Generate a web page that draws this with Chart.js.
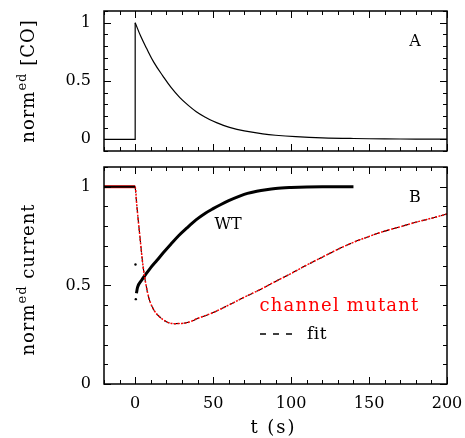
<!DOCTYPE html>
<html><head><meta charset="utf-8">
<script src="https://cdn.jsdelivr.net/npm/chart.js@4.4.0/dist/chart.umd.min.js"></script>
<style>
html,body{margin:0;padding:0;background:#fff;width:465px;height:438px;overflow:hidden}
canvas{position:absolute;left:0}
#c1{top:0}
#c2{top:155px}
</style></head><body>
<canvas id="c1" width="465" height="160"></canvas>
<canvas id="c2" width="465" height="283"></canvas>
<script>
const FONT = '"DejaVu Serif", serif';
const xTicks = [0, 50, 100, 150, 200];
const coYTicks = [0, 0.5, 1];
const curYTicks = [0, 0.5, 1];

// Panel A: normalised CO (step at t=0, then decay)
const coStepT = [-20, 0, 0];
const coStepY = [0, 0, 1];
const coT = [0, 3.5, 7.3, 12, 17.9, 23, 28.5, 34, 39.2, 45, 49.8, 55, 60.5, 70, 81.8, 90, 103, 120, 140, 160, 180, 200];
const coY = [1, 0.885, 0.78, 0.66, 0.54, 0.445, 0.36, 0.292, 0.237, 0.19, 0.157, 0.128, 0.102, 0.072, 0.047, 0.035, 0.023, 0.013, 0.007, 0.004, 0.002, 0.001];

// Panel B: WT current
const wtBaseT = [-20, -10, 0];
const wtBaseY = [1.0, 1.0, 1.0];
const wtT = [0.8, 1.5, 4, 7, 10, 14, 18, 23, 28, 33, 39, 45, 50, 55, 60, 67, 72, 78, 84, 90, 100, 110, 120, 130, 140];
const wtY = [0.46, 0.49, 0.525, 0.558, 0.59, 0.627, 0.665, 0.71, 0.753, 0.79, 0.832, 0.866, 0.889, 0.91, 0.929, 0.952, 0.966, 0.977, 0.985, 0.991, 0.996, 0.999, 1.0, 1.0, 1.0];
const wtStrayT = [0.2, 0.4];
const wtStrayY = [0.606, 0.43];

// Panel B: channel mutant current
const mutT = [-20, -10, 0, 1, 3, 5, 7, 9, 12, 15, 20, 25, 30, 35, 40, 50, 60, 70, 80, 90, 100, 110, 120, 130, 140, 150, 160, 170, 180, 190, 200];
const mutY = [1.0, 1.0, 1.0, 0.91, 0.75, 0.60, 0.50, 0.43, 0.375, 0.345, 0.316, 0.306, 0.307, 0.315, 0.332, 0.362, 0.40, 0.44, 0.478, 0.52, 0.56, 0.603, 0.643, 0.683, 0.718, 0.748, 0.775, 0.797, 0.82, 0.84, 0.862];
// fit of the mutant
const fitT = [0, 1, 3, 5, 7, 9, 12, 15, 20, 25, 30, 35, 40, 50, 60, 70, 80, 90, 100, 110, 120, 130, 140, 150, 160, 170, 180, 190, 200];
const fitY = [1.0, 0.91, 0.75, 0.60, 0.50, 0.43, 0.375, 0.345, 0.316, 0.306, 0.307, 0.315, 0.332, 0.362, 0.40, 0.44, 0.478, 0.52, 0.56, 0.603, 0.643, 0.683, 0.718, 0.748, 0.775, 0.797, 0.82, 0.84, 0.862];

const pts = (t, y) => t.map((v, i) => ({x: v, y: y[i]}));

function txt(ctx, t, x, y, size, opts = {}) {
  ctx.font = size + 'px ' + FONT;
  ctx.letterSpacing = (opts.ls || 0) + 'px';
  ctx.fillStyle = opts.color || '#000';
  ctx.textBaseline = 'middle';
  let w = ctx.measureText(t).width;
  let x0 = x;
  if ((opts.align || 'center') === 'center') x0 = x - w / 2;
  ctx.textAlign = 'left';
  ctx.fillText(t, x0, y);
  ctx.letterSpacing = '0px';
}

function makeFrame(opts) {
  return {
    id: 'frame',
    afterDatasetsDraw(chart) {
      const {ctx, chartArea: a, scales: {x, y}} = chart;
      ctx.save();
      ctx.strokeStyle = '#000';
      ctx.lineWidth = 1;
      const n = Math.round((opts.xMax - opts.xMin) / opts.xMinor);
      for (let i = 0; i <= n; i++) {
        const v = opts.xMin + i * opts.xMinor;
        const px = Math.round(x.getPixelForValue(v)) + 0.5;
        const major = Math.abs(v % 50) < 1e-6;
        const L = major ? 7 : 4;
        ctx.beginPath();
        ctx.moveTo(px, a.bottom); ctx.lineTo(px, a.bottom - L);
        ctx.moveTo(px, a.top); ctx.lineTo(px, a.top + L);
        ctx.stroke();
      }
      const m = Math.round((opts.yMax - opts.yMin) / 0.1);
      for (let i = 0; i <= m; i++) {
        const v = opts.yMin + i * 0.1;
        const py = Math.round(y.getPixelForValue(v)) + 0.5;
        const major = Math.abs(Math.round(v * 10) % 5) === 0;
        const L = major ? 7 : 4;
        ctx.beginPath();
        ctx.moveTo(a.left, py); ctx.lineTo(a.left + L, py);
        ctx.moveTo(a.right, py); ctx.lineTo(a.right - L, py);
        ctx.stroke();
      }
      ctx.lineWidth = 1.5;
      ctx.strokeRect(a.left, a.top, a.right - a.left, a.bottom - a.top);
      // rotated y title with superscript
      const cy = (a.top + a.bottom) / 2;
      const parts = opts.title;
      ctx.fillStyle = '#000';
      ctx.letterSpacing = '1px';
      let total = 0;
      parts.forEach(p => { ctx.font = p.size + 'px ' + FONT; p.w = ctx.measureText(p.t).width; total += p.w; });
      ctx.translate(opts.titleX, cy + (opts.titleDy || 0));
      ctx.rotate(-Math.PI / 2);
      let cx = -total / 2;
      ctx.textBaseline = 'alphabetic';
      ctx.textAlign = 'left';
      parts.forEach(p => { ctx.font = p.size + 'px ' + FONT; ctx.fillText(p.t, cx, -(p.raise || 0)); cx += p.w; });
      ctx.setTransform(1, 0, 0, 1, 0, 0);
      ctx.letterSpacing = '0px';
      // annotations
      (opts.texts || []).forEach(t => txt(ctx, t.t, t.x, t.y, t.size, t));
      if (opts.legendDash) {
        const d = opts.legendDash;
        ctx.strokeStyle = '#000';
        ctx.lineWidth = 1.3;
        ctx.setLineDash([6, 7]);
        ctx.beginPath();
        ctx.moveTo(d.x0, d.y); ctx.lineTo(d.x1, d.y);
        ctx.stroke();
        ctx.setLineDash([]);
      }
      ctx.restore();
    }
  };
}

const tickFont = {family: FONT, size: 16};
const noPad = s => { s.paddingTop = 0; s.paddingBottom = 0; s.paddingLeft = 0; s.paddingRight = 0; };

new Chart(document.getElementById('c1'), {
  type: 'scatter',
  data: {datasets: [
    {data: pts(coStepT, coStepY), showLine: true, borderColor: '#000', borderWidth: 1.2, pointRadius: 0, tension: 0},
    {data: pts(coT, coY), showLine: true, borderColor: '#000', borderWidth: 1.2, pointRadius: 0, tension: 0.4}
  ]},
  options: {
    responsive: false, animation: false, devicePixelRatio: 1,
    layout: {padding: {left: 0, right: 18, top: 11, bottom: 9}},
    plugins: {legend: {display: false}, tooltip: {enabled: false}},
    scales: {
      x: {type: 'linear', min: -20, max: 200, display: false, afterFit: noPad},
      y: {type: 'linear', min: -0.1, max: 1.1,
        afterBuildTicks: s => { s.ticks = coYTicks.map(v => ({value: v})); },
        afterFit: s => { s.width = 104; noPad(s); },
        grid: {display: false, drawTicks: false}, border: {display: false},
        ticks: {font: tickFont, color: '#000', padding: 13, callback: v => String(v)}
      }
    }
  },
  plugins: [makeFrame({xMin: -20, xMax: 200, xMinor: 10, yMin: -0.1, yMax: 1.1, titleX: 34,
    title: [{t: 'norm', size: 18}, {t: 'ed', size: 13, raise: 8}, {t: ' [CO]', size: 18}],
    texts: [{t: 'A', x: 415, y: 42, size: 16}]})]
});

new Chart(document.getElementById('c2'), {
  type: 'scatter',
  data: {datasets: [
    {data: pts(wtBaseT, wtBaseY), showLine: true, borderColor: '#000', borderWidth: 2, pointRadius: 0},
    {data: pts(mutT, mutY), showLine: true, borderColor: '#ff0000', borderWidth: 1.5, borderDash: [2, 1.5], pointRadius: 0, tension: 0.3,
      cubicInterpolationMode: 'monotone',
      segment: {borderWidth: c => c.p1.parsed.x <= 0 ? 3 : 1.5, borderDash: c => c.p1.parsed.x <= 0 ? [] : [2, 1.5]}},
    {data: pts(fitT, fitY), showLine: true, borderColor: '#000', borderWidth: 1.1, borderDash: [6, 4], pointRadius: 0, tension: 0.3, cubicInterpolationMode: 'monotone'},
    {data: pts(wtT, wtY), showLine: true, borderColor: '#000', borderWidth: 3, pointRadius: 0, tension: 0.3, cubicInterpolationMode: 'monotone'},
    {data: pts(wtStrayT, wtStrayY), showLine: false, pointRadius: 1.2, pointBackgroundColor: '#000', pointBorderWidth: 0}
  ]},
  options: {
    responsive: false, animation: false, devicePixelRatio: 1,
    layout: {padding: {left: 0, right: 18, top: 12, bottom: 0}},
    plugins: {legend: {display: false}, tooltip: {enabled: false}},
    scales: {
      x: {type: 'linear', min: -20, max: 200,
        afterBuildTicks: s => { s.ticks = xTicks.map(v => ({value: v})); },
        afterFit: s => { s.height = 54; noPad(s); },
        grid: {display: false, drawTicks: false}, border: {display: false},
        ticks: {font: tickFont, color: '#000', padding: 10, maxRotation: 0, callback: v => String(v)}
      },
      y: {type: 'linear', min: 0, max: 1.1,
        afterBuildTicks: s => { s.ticks = curYTicks.map(v => ({value: v})); },
        afterFit: s => { s.width = 104; noPad(s); },
        grid: {display: false, drawTicks: false}, border: {display: false},
        ticks: {font: tickFont, color: '#000', padding: 13, callback: v => String(v)}
      }
    }
  },
  plugins: [makeFrame({xMin: -20, xMax: 200, xMinor: 10, yMin: 0, yMax: 1.1, titleX: 34, titleDy: 4,
    title: [{t: 'norm', size: 18}, {t: 'ed', size: 13, raise: 8}, {t: ' current', size: 18}],
    texts: [{t: 'B', x: 415, y: 43, size: 16}, {t: 'WT', x: 228, y: 70, size: 16},
      {t: 'channel mutant', x: 339.5, y: 151, size: 18, color: '#ff0000', ls: 1.2},
      {t: 'fit', x: 307, y: 180, size: 17, align: 'left', ls: 0.5},
      {t: 't (s)', x: 273.5, y: 273, size: 18, ls: 2}],
    legendDash: {x0: 260, x1: 292, y: 179}})]
});
</script>
</body></html>
